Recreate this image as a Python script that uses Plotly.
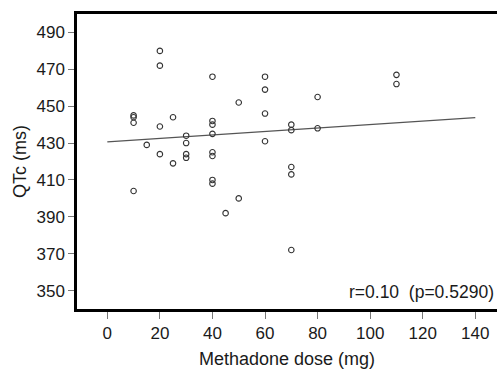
import plotly.graph_objects as go

# Methadone dose (mg) and QTc (ms)
dose = [10, 10, 10, 10,
        15,
        20, 20, 20, 20,
        25, 25,
        30, 30, 30, 30,
        40, 40, 40, 40, 40, 40, 40, 40,
        45,
        50, 50,
        60, 60, 60, 60,
        70, 70, 70, 70, 70,
        80, 80,
        110, 110]
qtc = [445, 444, 441, 404,
       429,
       480, 472, 439, 424,
       444, 419,
       434, 430, 424, 422,
       466, 442, 440, 435, 425, 423, 410, 408,
       392,
       452, 400,
       466, 459, 446, 431,
       440, 437, 417, 413, 372,
       455, 438,
       467, 462]

# Fitted line end points
fit_x = [0, 140]
fit_y = [430.6, 443.8]

x_ticks = [0, 20, 40, 60, 80, 100, 120, 140]
y_ticks = [350, 370, 390, 410, 430, 450, 470, 490]

fig = go.Figure()
fig.add_trace(go.Scatter(x=fit_x, y=fit_y, mode="lines",
                         line=dict(color="#555555", width=1.2),
                         hoverinfo="skip", showlegend=False))
fig.add_trace(go.Scatter(x=dose, y=qtc, mode="markers",
                         marker=dict(symbol="circle-open", size=5.5,
                                     color="#333333", line=dict(width=1.1, color="#333333")),
                         showlegend=False))

fig.update_layout(
    width=497, height=369,
    margin=dict(l=77, r=0, t=14, b=60),
    paper_bgcolor="white", plot_bgcolor="white",
    font=dict(family="Liberation Sans, Arial, sans-serif", size=17, color="#1a1a1a"),
    xaxis=dict(range=[-11.53, 148.25], tickvals=x_ticks,
               showgrid=False, zeroline=False,
               showline=True, linecolor="black", linewidth=2.5, mirror=True,
               ticks="outside", ticklen=7, tickwidth=1, tickcolor="#777777",
               tickfont=dict(size=17),
               title=dict(text="Methadone dose (mg)", font=dict(size=18), standoff=12)),
    yaxis=dict(range=[340, 500], tickvals=y_ticks,
               showgrid=False, zeroline=False,
               showline=True, linecolor="black", linewidth=2.5, mirror=False,
               ticks="outside", ticklen=6, tickwidth=1, tickcolor="#777777",
               tickfont=dict(size=17),
               title=dict(text="QTc (ms)", font=dict(size=18), standoff=6)),
    annotations=[dict(text="r=0.10  (p=0.5290)", xref="paper", yref="paper",
                      x=1, y=0, xanchor="right", yanchor="bottom",
                      xshift=-1, yshift=5, showarrow=False,
                      font=dict(size=17.5, color="#1a1a1a"))],
)

fig.write_html("out.html")
